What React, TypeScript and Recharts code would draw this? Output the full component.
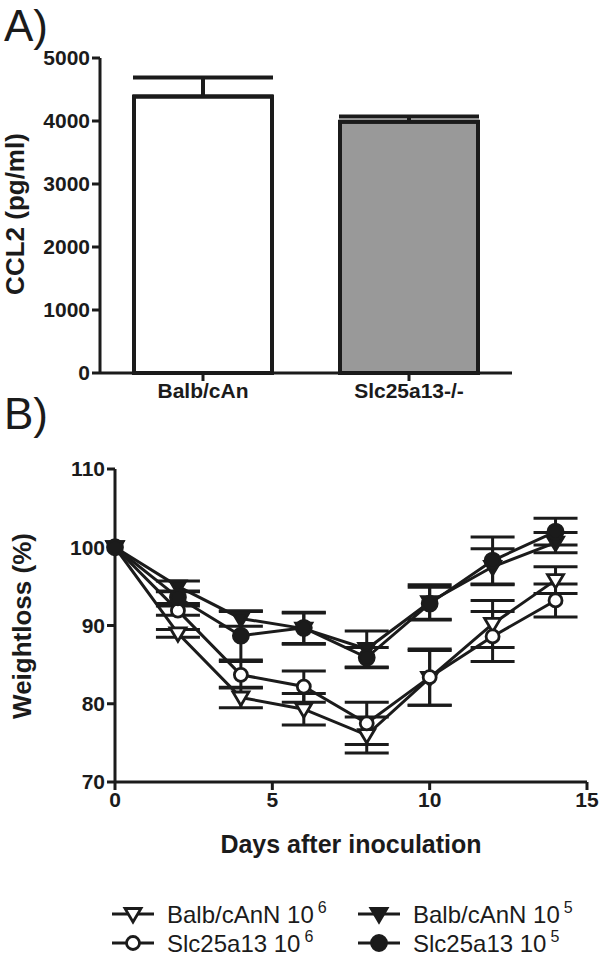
import { BarChart, Bar, Cell, XAxis, YAxis, ErrorBar, LineChart, Line } from "recharts";

// Panel A: CCL2
const groups = ["Balb/cAn", "Slc25a13-/-"];
const ccl2 = [4390, 3990];
const ccl2Sem = [300, 80];
const barFills = ["#ffffff", "#999999"];
const ccl2Ticks = [0, 1000, 2000, 3000, 4000, 5000];

// Panel B: weight loss over time
const days = [0, 2, 4, 6, 8, 10, 12, 14];
const balb6 = [100, 89.0, 80.8, 79.3, 76.0, 83.3, 90.2, 95.8];
const balb6Err = [0, 0.5, 1.3, 2.0, 2.3, 3.5, 3.0, 1.7];
const slc6 = [100, 91.9, 83.7, 82.2, 77.5, 83.4, 88.6, 93.2];
const slc6Err = [0, 0.6, 1.7, 2.0, 2.7, 3.6, 3.2, 2.1];
const balb5 = [100, 95.0, 90.9, 89.6, 87.0, 93.0, 97.5, 100.6];
const balb5Err = [0, 0.7, 1.0, 2.0, 2.3, 2.2, 2.3, 1.3];
const slc5 = [100, 93.6, 88.7, 89.7, 85.9, 92.8, 98.3, 102.0];
const slc5Err = [0, 0.8, 3.1, 2.0, 1.3, 2.1, 3.0, 1.7];
const dayTicks = [0, 5, 10, 15];
const weightTicks = [70, 80, 90, 100, 110];

const INK = "#1b1b1b";
const FONT = "'Liberation Sans', Arial, sans-serif";

const barData = groups.map((g, i) => ({ group: g, value: ccl2[i], err: [0, ccl2Sem[i]] }));

const lineData = days.map((d, i) => ({
  day: d,
  balb6: balb6[i],
  balb6Err: balb6Err[i],
  slc6: slc6[i],
  slc6Err: slc6Err[i],
  balb5: balb5[i],
  balb5Err: balb5Err[i],
  slc5: slc5[i],
  slc5Err: slc5Err[i],
}));

type Kind = "triOpen" | "triFill" | "circOpen" | "circFill";

function Marker({ kind, cx, cy }: { kind: Kind; cx: number; cy: number }) {
  if (kind === "triOpen" || kind === "triFill") {
    const pts = `${cx - 8},${cy - 5.5} ${cx + 8},${cy - 5.5} ${cx},${cy + 8}`;
    return (
      <polygon
        points={pts}
        fill={kind === "triFill" ? INK : "#fff"}
        stroke={INK}
        strokeWidth={2.8}
        strokeLinejoin="miter"
      />
    );
  }
  return (
    <circle
      cx={cx}
      cy={cy}
      r={kind === "circFill" ? 7.5 : 6.5}
      fill={kind === "circFill" ? INK : "#fff"}
      stroke={INK}
      strokeWidth={2.8}
    />
  );
}

const dot = (kind: Kind) => (props: any) => {
  const { cx, cy, index } = props;
  if (cx == null || cy == null) return <g key={index} />;
  return (
    <g key={index}>
      <Marker kind={kind} cx={cx} cy={cy} />
    </g>
  );
};

const tickStyle = { fontSize: 21, fontWeight: 700, fill: INK, fontFamily: FONT };
const axisLine = { stroke: INK, strokeWidth: 3 };

const series: { key: string; kind: Kind }[] = [
  { key: "balb6", kind: "triOpen" },
  { key: "slc6", kind: "circOpen" },
  { key: "balb5", kind: "triFill" },
  { key: "slc5", kind: "circFill" },
];

const legendItems: { label: string; exp: string; kind: Kind; x: number; y: number }[] = [
  { label: "Balb/cAnN 10", exp: "6", kind: "triOpen", x: 110, y: 914 },
  { label: "Balb/cAnN 10", exp: "5", kind: "triFill", x: 356, y: 914 },
  { label: "Slc25a13 10", exp: "6", kind: "circOpen", x: 110, y: 943 },
  { label: "Slc25a13 10", exp: "5", kind: "circFill", x: 356, y: 943 },
];

function PanelLetter({ text, top }: { text: string; top: number }) {
  return (
    <svg style={{ position: "absolute", left: 0, top }} width={70} height={52}>
      <text x={4} y={41} fontSize={44} fontFamily={FONT} fill={INK}>
        {text}
      </text>
    </svg>
  );
}

function VTitle({ text, cx, cy }: { text: string; cx: number; cy: number }) {
  return (
    <div
      style={{
        position: "absolute",
        left: cx - 120,
        top: cy - 15,
        width: 240,
        height: 30,
        lineHeight: "30px",
        textAlign: "center",
        transform: "rotate(-90deg)",
        fontSize: 26,
        fontWeight: 700,
        color: INK,
        fontFamily: FONT,
        whiteSpace: "nowrap",
      }}
    >
      {text}
    </div>
  );
}

export default function App() {
  return (
    <div
      style={{
        position: "absolute",
        left: 0,
        top: 0,
        width: 600,
        height: 958,
        background: "#fff",
        fontFamily: FONT,
        overflow: "hidden",
      }}
    >
      <div style={{ position: "absolute", left: 0, top: 0 }}>
        <BarChart width={600} height={420} data={barData} margin={{ top: 58, right: 88, left: 0, bottom: 0 }} barSize={138}>
          <XAxis
            dataKey="group"
            axisLine={axisLine}
            tickLine={axisLine}
            tickSize={8}
            tick={tickStyle}
            height={47}
            interval={0}
          />
          <YAxis
            domain={[0, 5000]}
            ticks={ccl2Ticks}
            width={100}
            axisLine={axisLine}
            tickLine={axisLine}
            tickSize={8}
            tick={tickStyle}
          />
          <Bar dataKey="value" stroke={INK} strokeWidth={4} isAnimationActive={false}>
            {barData.map((_, i) => (
              <Cell key={i} fill={barFills[i]} />
            ))}
            <ErrorBar dataKey="err" width={70} stroke={INK} strokeWidth={4} direction="y" />
          </Bar>
        </BarChart>
      </div>
      <PanelLetter text="A)" top={0} />
      <VTitle text="CCL2 (pg/ml)" cx={15} cy={214} />

      <PanelLetter text="B)" top={388} />
      <div style={{ position: "absolute", left: 0, top: 440 }}>
        <LineChart width={600} height={382} data={lineData} margin={{ top: 29, right: 13, left: 0, bottom: 0 }}>
          <XAxis
            dataKey="day"
            type="number"
            domain={[0, 15]}
            ticks={dayTicks}
            axisLine={axisLine}
            tickLine={axisLine}
            tickSize={8}
            tick={tickStyle}
            height={40}
          />
          <YAxis
            domain={[70, 110]}
            ticks={weightTicks}
            width={115}
            axisLine={axisLine}
            tickLine={axisLine}
            tickSize={8}
            tick={tickStyle}
          />
          {series.map((s) => (
            <Line
              key={s.key}
              dataKey={s.key}
              stroke={INK}
              strokeWidth={3}
              dot={dot(s.kind)}
              activeDot={false}
              isAnimationActive={false}
            >
              <ErrorBar dataKey={s.key + "Err"} width={22} stroke={INK} strokeWidth={3} direction="y" />
            </Line>
          ))}
        </LineChart>
      </div>
      <VTitle text="Weightloss (%)" cx={22} cy={626} />
      <div
        style={{
          position: "absolute",
          left: 115,
          width: 472,
          top: 830,
          textAlign: "center",
          fontSize: 25,
          fontWeight: 700,
          color: INK,
        }}
      >
        Days after inoculation
      </div>

      {legendItems.map((it, i) => (
        <div key={i} style={{ position: "absolute", left: it.x, top: it.y - 16, height: 32, display: "flex", alignItems: "center" }}>
          <svg width={46} height={32}>
            <line x1={2} y1={16} x2={44} y2={16} stroke={INK} strokeWidth={3} />
            <Marker kind={it.kind} cx={23} cy={16} />
          </svg>
          <span style={{ marginLeft: 11, fontSize: 24, color: INK, whiteSpace: "nowrap" }}>
            {it.label}
            <sup style={{ fontSize: 16, marginLeft: 4, verticalAlign: "10px" }}>{it.exp}</sup>
          </span>
        </div>
      ))}
    </div>
  );
}
